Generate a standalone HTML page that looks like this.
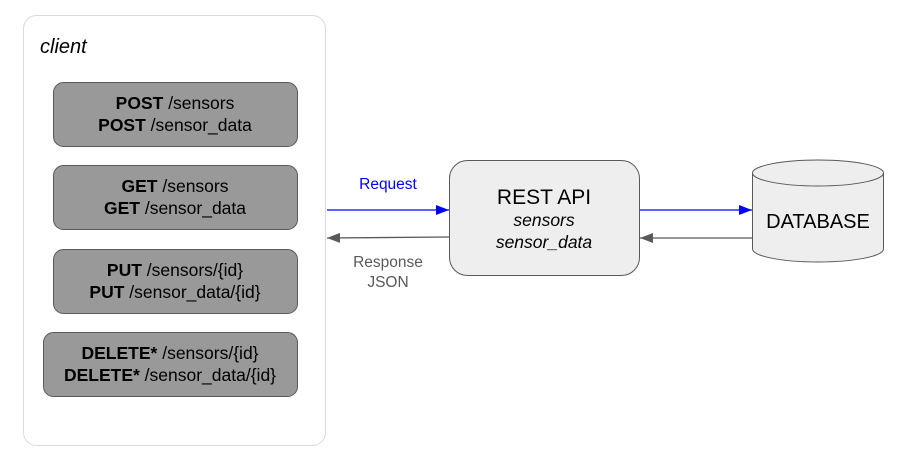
<!DOCTYPE html>
<html><head><style>body{margin:0;background:#fff}svg{display:block;font-family:"Liberation Sans",sans-serif}</style></head><body>
<svg width="903" height="464" viewBox="0 0 903 464">
<defs>
<marker id="b" markerWidth="14" markerHeight="12" refX="13" refY="6" orient="auto" markerUnits="userSpaceOnUse"><path d="M0,1 L13,6 L0,11Z" fill="#0000ff"/></marker>
<marker id="g" markerWidth="14" markerHeight="12" refX="13" refY="6" orient="auto" markerUnits="userSpaceOnUse"><path d="M0,1 L13,6 L0,11Z" fill="#595959"/></marker>
</defs>
<rect x="23.5" y="15.5" width="302" height="430" rx="13" fill="#fff" stroke="#d9d9d9"/>
<text x="40" y="53" font-size="20" font-style="italic">client</text>
<g fill="#999" stroke="#595959" stroke-width="1">
<rect x="53.5" y="82.5" width="244" height="64" rx="10"/>
<rect x="53.5" y="165.5" width="244" height="64" rx="10"/>
<rect x="53.5" y="249.5" width="244" height="64" rx="10"/>
<rect x="43.5" y="332.5" width="254" height="64" rx="10"/>
</g>
<g font-size="17.5" text-anchor="middle">
<text x="175" y="109"><tspan font-weight="bold">POST</tspan> /sensors</text>
<text x="175" y="131"><tspan font-weight="bold">POST</tspan> /sensor_data</text>
<text x="175" y="192"><tspan font-weight="bold">GET</tspan> /sensors</text>
<text x="175" y="214"><tspan font-weight="bold">GET</tspan> /sensor_data</text>
<text x="175" y="276"><tspan font-weight="bold">PUT</tspan> /sensors/{id}</text>
<text x="175" y="298"><tspan font-weight="bold">PUT</tspan> /sensor_data/{id}</text>
<text x="170" y="359"><tspan font-weight="bold">DELETE*</tspan> /sensors/{id}</text>
<text x="170" y="381"><tspan font-weight="bold">DELETE*</tspan> /sensor_data/{id}</text>
</g>
<rect x="449.5" y="160.5" width="190" height="115" rx="18" fill="#eee" stroke="#595959"/>
<text x="544" y="204" font-size="21" text-anchor="middle">REST API</text>
<text x="544" y="226" font-size="17.5" font-style="italic" text-anchor="middle">sensors</text>
<text x="544" y="248" font-size="17.5" font-style="italic" text-anchor="middle">sensor_data</text>
<path d="M752.5,173 L752.5,249 A65.5,13 0 0 0 883.5,249 L883.5,173 A65.5,13 0 0 0 752.5,173 Z" fill="#eee" stroke="#595959"/>
<path d="M752.5,173 A65.5,13 0 0 0 883.5,173" fill="none" stroke="#595959"/>
<text x="818" y="228" font-size="20" text-anchor="middle">DATABASE</text>
<line x1="327" y1="210" x2="449" y2="210" stroke="#0000ff" stroke-width="1.3" marker-end="url(#b)"/>
<line x1="640" y1="210" x2="752" y2="210" stroke="#0000ff" stroke-width="1.3" marker-end="url(#b)"/>
<line x1="449" y1="237" x2="327" y2="238" stroke="#595959" stroke-width="1.3" marker-end="url(#g)"/>
<line x1="752" y1="238" x2="640" y2="238" stroke="#595959" stroke-width="1.3" marker-end="url(#g)"/>
<text x="388" y="189" font-size="15.5" fill="#0000ff" text-anchor="middle">Request</text>
<text x="388" y="267" font-size="15.5" fill="#595959" text-anchor="middle">Response</text>
<text x="388" y="287" font-size="15.5" fill="#595959" text-anchor="middle">JSON</text>
</svg>
</body></html>
